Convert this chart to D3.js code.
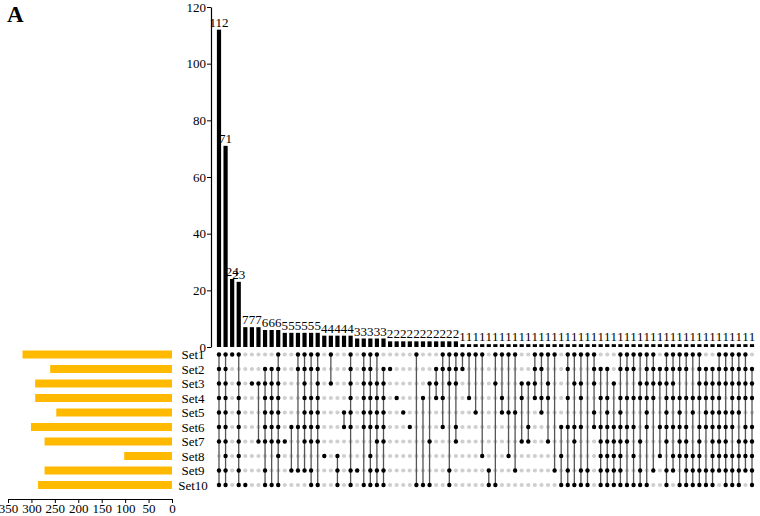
<!DOCTYPE html>
<html>
<head>
<meta charset="utf-8">
<script src="https://cdn.jsdelivr.net/npm/d3@7"></script>
<style>
  body { margin: 0; background: #fff; }
  text { font-family: "Liberation Serif", "Times New Roman", serif; }
</style>
</head>
<body>
<div id="chart"></div>
<script>
// set names and their sizes (left bar chart)
const sets = ["Set1", "Set2", "Set3", "Set4", "Set5", "Set6", "Set7", "Set8", "Set9", "Set10"];
const setSizes = [319, 260, 292, 292, 247, 301, 272, 102, 272, 286];

// intersection sizes, in plotted order (26 bigger ones, 11 twos, 45 ones)
const counts = [112, 71, 24, 23, 7, 7, 7, 6, 6, 6,
  5, 5, 5, 5, 5, 5, 4, 4, 4, 4, 4, 3, 3, 3, 3, 3,
  2, 2, 2, 2, 2, 2, 2, 2, 2, 2, 2,
  1, 1, 1, 1, 1, 1, 1, 1, 1, 1, 1, 1, 1, 1, 1,
  1, 1, 1, 1, 1, 1, 1, 1, 1, 1, 1, 1, 1, 1, 1,
  1, 1, 1, 1, 1, 1, 1, 1, 1, 1, 1, 1, 1, 1, 1];

// membership of each intersection, one char per set (Set1..Set10)
const members = [
  "1111111011", "1111111111", "1000000000", "1011111111", "0000000001",
  "0010000000", "0010001000", "0111111011", "0111111001", "1111111101",
  "0000001000", "0000010010", "1100010010", "1111111010", "1101111011",
  "1111111001", "0000000100", "1010000000", "0000000111", "0000110000",
  "1111110011", "0000000010", "1111110001", "1111110111", "1011111011",
  "0111111011", "0100000000", "0001000000", "0000100000", "0000010000",
  "1000000001", "0001000001", "0010001001", "0111000000", "1101010000",
  "1110000011", "1110011000", "1100000000", "1001000000", "1000100000",
  "1000000100", "0000000011", "1010000001", "1001100000", "1000100100",
  "1000100010", "0011001000", "0010011000", "1111000000", "1101100000",
  "1011001000", "1000000010", "0000010101", "1101010011", "1010011001",
  "1011010011", "1000000011", "1110110000", "0101011111", "0101111111",
  "0010011111", "1101111111", "1101011001", "1101010101", "1011001011",
  "1111110001", "1111000010", "0110010100", "1111111011", "1111010110",
  "1101111101", "1101011111", "1001100111", "1111011111", "0111110011",
  "0111111111", "1111111110", "1110111111", "1111110111", "1111101111",
  "1111011110", "0111011111"
];

const yTicks = [0, 20, 40, 60, 80, 100, 120];
const sizeTicks = [350, 300, 250, 200, 150, 100, 50, 0];

const W = 760, H = 516;
const svg = d3.select("#chart").append("svg")
  .attr("width", W).attr("height", H);

// panel letter
svg.append("text")
  .attr("x", 7).attr("y", 22)
  .attr("font-size", "23px").attr("font-weight", "bold")
  .text("A");

// scales
const x = d3.scaleBand()
  .domain(d3.range(counts.length))
  .range([215.7, 755.3])
  .padding(0);
const cx = i => x(i) + x.bandwidth() / 2;

const y = d3.scaleLinear().domain([0, 120]).range([347, 7]);
const row = d3.scalePoint().domain(sets).range([354.5, 485]);
const sx = d3.scaleLinear().domain([0, 350]).range([172, 8]);

// intersection bars
svg.append("g").selectAll("rect")
  .data(counts)
  .join("rect")
  .attr("x", (d, i) => cx(i) - 2.1)
  .attr("width", 4.2)
  .attr("y", d => y(d))
  .attr("height", d => y(0) - y(d))
  .attr("fill", "#000");

svg.append("g").selectAll("text")
  .data(counts)
  .join("text")
  .attr("x", (d, i) => cx(i))
  .attr("y", d => y(d) - 3)
  .attr("text-anchor", "middle")
  .attr("font-size", "13px")
  .attr("fill", "#000")
  .text(d => d);

// y axis of intersection bars
const yAxis = svg.append("g")
  .attr("transform", "translate(211,0)")
  .call(d3.axisLeft(y).tickValues(yTicks).tickSize(4).tickSizeOuter(0).tickPadding(1));
yAxis.selectAll("text").attr("font-size", "13px").attr("font-family", "Liberation Serif, serif");
yAxis.select(".domain").attr("stroke-width", 1.2);

// matrix: grey and black dots
const cells = [];
members.forEach((m, i) => {
  sets.forEach((s, r) => cells.push({ i, s, on: m[r] === "1" }));
});

svg.append("g").selectAll("circle")
  .data(cells.filter(c => !c.on))
  .join("circle")
  .attr("cx", d => cx(d.i))
  .attr("cy", d => row(d.s))
  .attr("r", 2.1)
  .attr("fill", "#cfcfcf");

// connecting lines
const links = members.map((m, i) => {
  const on = sets.filter((s, r) => m[r] === "1");
  return { i, top: on[0], bottom: on[on.length - 1] };
}).filter(d => d.top !== d.bottom);

svg.append("g").selectAll("line")
  .data(links)
  .join("line")
  .attr("x1", d => cx(d.i)).attr("x2", d => cx(d.i))
  .attr("y1", d => row(d.top)).attr("y2", d => row(d.bottom))
  .attr("stroke", "#555")
  .attr("stroke-width", 1.3);

svg.append("g").selectAll("circle")
  .data(cells.filter(c => c.on))
  .join("circle")
  .attr("cx", d => cx(d.i))
  .attr("cy", d => row(d.s))
  .attr("r", 2.2)
  .attr("fill", "#000");

// set labels
svg.append("g").selectAll("text")
  .data(sets)
  .join("text")
  .attr("x", 193)
  .attr("y", d => row(d) + 4.5)
  .attr("text-anchor", "middle")
  .attr("font-size", "13px")
  .text(d => d);

// set size bars
svg.append("g").selectAll("rect")
  .data(setSizes)
  .join("rect")
  .attr("x", d => sx(d))
  .attr("width", d => sx(0) - sx(d))
  .attr("y", (d, r) => row(sets[r]) - 4)
  .attr("height", 8)
  .attr("fill", "#ffba00");

const sAxis = svg.append("g")
  .attr("transform", "translate(0,499)")
  .call(d3.axisBottom(sx).tickValues(sizeTicks).tickSize(4).tickSizeOuter(0).tickPadding(1));
sAxis.selectAll("text").attr("font-size", "13px").attr("font-family", "Liberation Serif, serif");
sAxis.select(".domain").attr("stroke-width", 1.2);
</script>
</body>
</html>
